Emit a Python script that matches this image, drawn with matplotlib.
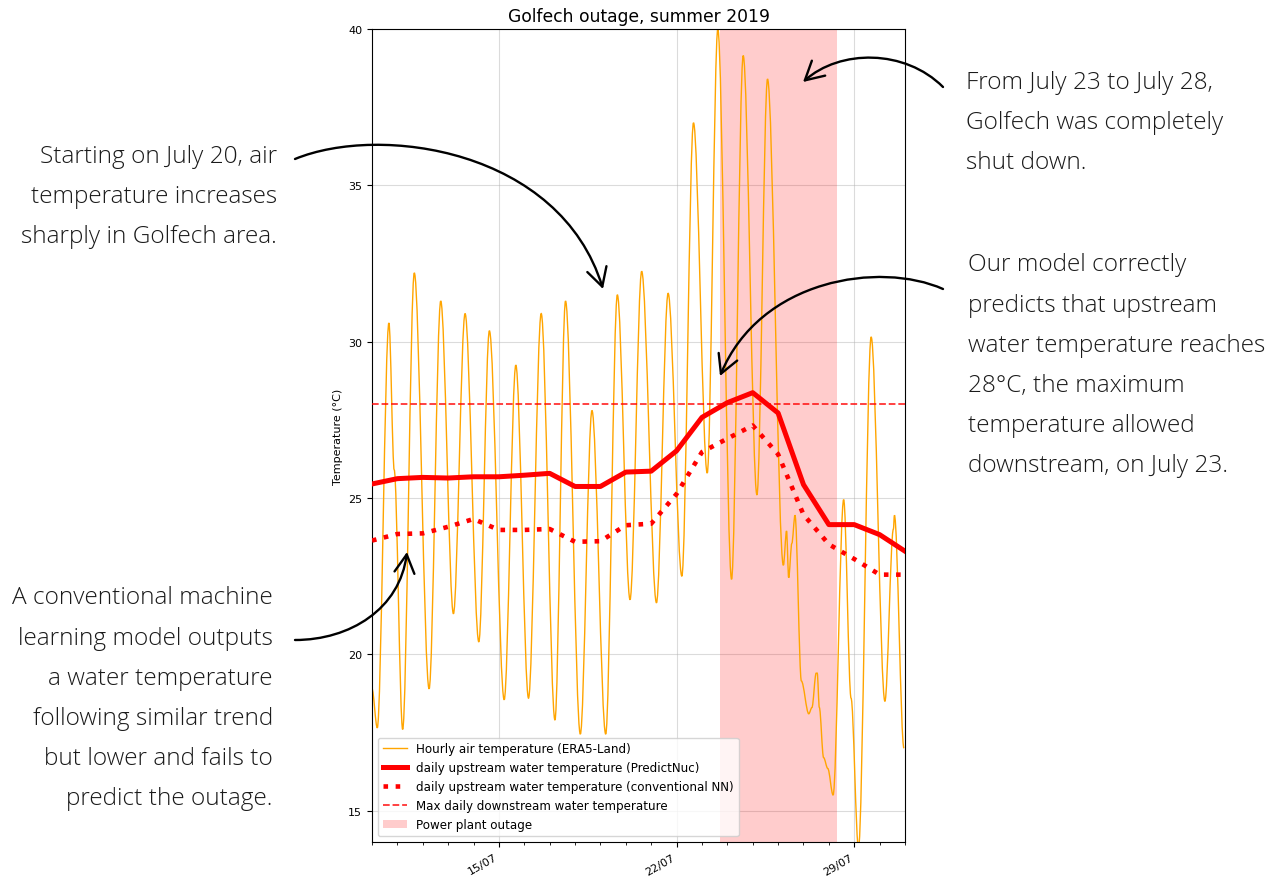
"""Golfech outage, summer 2019: air temperature and upstream water temperature."""

import datetime as dt

import matplotlib

matplotlib.use("Agg")
import matplotlib.dates as mdates
import matplotlib.pyplot as plt
from matplotlib.lines import Line2D
from matplotlib.patches import FancyArrowPatch, PathPatch, Patch
from matplotlib.path import Path


AIR_TIMES = [
    "2019-07-10 00:00", "2019-07-10 05:00", "2019-07-10 16:00", "2019-07-10 21:00",
    "2019-07-11 05:00", "2019-07-11 16:00", "2019-07-12 06:00", "2019-07-12 17:00",
    "2019-07-13 05:00", "2019-07-13 16:00", "2019-07-14 05:00", "2019-07-14 15:00",
    "2019-07-15 05:00", "2019-07-15 16:00", "2019-07-16 04:00", "2019-07-16 16:00",
    "2019-07-17 05:00", "2019-07-17 15:00", "2019-07-18 05:00", "2019-07-18 16:00",
    "2019-07-19 05:00", "2019-07-19 16:00", "2019-07-20 04:00", "2019-07-20 15:00",
    "2019-07-21 05:00", "2019-07-21 16:00", "2019-07-22 05:00", "2019-07-22 16:00",
    "2019-07-23 05:00", "2019-07-23 15:00", "2019-07-24 04:00", "2019-07-24 15:00",
    "2019-07-25 04:00", "2019-07-25 14:00", "2019-07-26 05:00", "2019-07-26 08:00",
    "2019-07-26 10:00", "2019-07-26 13:00", "2019-07-26 16:00", "2019-07-26 22:00",
    "2019-07-27 05:00", "2019-07-27 08:00", "2019-07-27 12:00", "2019-07-27 13:00",
    "2019-07-27 15:00", "2019-07-27 19:00", "2019-07-27 23:00", "2019-07-28 04:00",
    "2019-07-28 14:00", "2019-07-28 21:00", "2019-07-29 04:00", "2019-07-29 16:00",
    "2019-07-30 05:00", "2019-07-30 13:00", "2019-07-30 14:00", "2019-07-30 23:00",
]
AIR_TEMP = [
    18.9, 17.65, 30.6, 25.9,
    17.6, 32.2, 18.9, 31.3,
    21.3, 30.9, 20.4, 30.35,
    18.55, 29.25, 18.6, 30.9,
    17.9, 31.3, 17.45, 27.8,
    17.45, 31.5, 21.75, 32.25,
    21.65, 31.55, 22.5, 37.0,
    25.8, 40.0, 22.4, 39.15,
    25.1, 38.4, 22.85, 23.95,
    22.45, 23.55, 24.45, 19.15,
    18.1, 18.3, 19.4, 19.4,
    18.3, 16.7, 16.35, 15.5,
    24.95, 18.6, 13.8, 30.15,
    18.5, 24.0, 24.45, 17.0,
]

# daily upstream water temperature, July 10 to July 31 at midnight
DAILY_DATES = [dt.datetime(2019, 7, day) for day in range(10, 32)]
PREDICTNUC = [
    25.45, 25.62, 25.66, 25.64, 25.68, 25.68, 25.73, 25.79, 25.37, 25.37, 25.83,
    25.86, 26.51, 27.58, 28.05, 28.37, 27.72, 25.43, 24.15, 24.15, 23.83, 23.3,
]
CONVENTIONAL_NN = [
    23.64, 23.85, 23.87, 24.08, 24.33, 23.98, 23.98, 24.01, 23.6, 23.62, 24.13,
    24.18, 25.13, 26.47, 26.9, 27.32, 26.4, 24.47, 23.52, 23.05, 22.55, 22.55,
]
MAX_DOWNSTREAM = 28.0
OUTAGE_START = dt.datetime(2019, 7, 23, 17, 30)
OUTAGE_END = dt.datetime(2019, 7, 28, 7, 30)

NOTE_FONT = ["Open Sans", "Lato", "DejaVu Sans"]
NOTE_COLOR = "#1a1a1a"
NOTE_SIZE = 17.6

W, H = 1284, 879


def smooth_path(xs, ys):
    """Cubic path through the points, flat at each point like a daily cycle."""
    verts = [(xs[0], ys[0])]
    codes = [Path.MOVETO]
    for i in range(len(xs) - 1):
        step = (xs[i + 1] - xs[i]) / 3
        verts += [(xs[i] + step, ys[i]), (xs[i + 1] - step, ys[i + 1]), (xs[i + 1], ys[i + 1])]
        codes += [Path.CURVE4] * 3
    return Path(verts, codes)


def fig_xy(x, y):
    """Image pixel (y down) to figure fraction."""
    return x / W, 1 - y / H


fig = plt.figure(figsize=(W / 100, H / 100), dpi=100)
ax = fig.add_axes([372 / W, 1 - 843 / H, 533 / W, 813 / H])

air_x = mdates.date2num([dt.datetime.strptime(t, "%Y-%m-%d %H:%M") for t in AIR_TIMES])
ax.add_patch(PathPatch(smooth_path(air_x, AIR_TEMP), fill=False,
                       edgecolor="orange", linewidth=1.0, zorder=2))
ax.plot(DAILY_DATES, PREDICTNUC, color="red", linewidth=3.6, zorder=3)
ax.plot(DAILY_DATES, CONVENTIONAL_NN, color="red", linewidth=3.3, linestyle=":", zorder=3)
ax.axhline(MAX_DOWNSTREAM, color="red", linestyle="--", linewidth=1.3, alpha=0.8, zorder=3)
ax.axvspan(OUTAGE_START, OUTAGE_END, color="red", alpha=0.2, linewidth=0, zorder=1)

ax.set_xlim(DAILY_DATES[0], DAILY_DATES[-1])
ax.set_ylim(14, 40)
ax.set_yticks([15, 20, 25, 30, 35, 40])
ax.xaxis.set_major_locator(mdates.DayLocator(bymonthday=[1, 8, 15, 22, 29]))
ax.xaxis.set_minor_locator(mdates.DayLocator())
ax.xaxis.set_major_formatter(mdates.DateFormatter("%d/%m"))
ax.tick_params(labelsize=8)
for label in ax.get_xticklabels():
    label.set_rotation(30)
    label.set_horizontalalignment("right")
ax.grid(True, color="#b0b0b0", alpha=0.45, linewidth=0.8)
ax.set_axisbelow(True)
ax.set_title("Golfech outage, summer 2019", fontsize=12.3)
ax.set_ylabel("Temperature (°C)", fontsize=8)

handles = [
    Line2D([], [], color="orange", linewidth=1.0),
    Line2D([], [], color="red", linewidth=3.6),
    Line2D([], [], color="red", linewidth=3.3, linestyle=":"),
    Line2D([], [], color="red", linewidth=1.3, linestyle="--", alpha=0.8),
    Patch(facecolor="red", alpha=0.2, linewidth=0),
]
labels = [
    "Hourly air temperature (ERA5-Land)",
    "daily upstream water temperature (PredictNuc)",
    "daily upstream water temperature (conventional NN)",
    "Max daily downstream water temperature",
    "Power plant outage",
]
ax.legend(handles, labels, loc="lower left", fontsize=8.6)

# side notes
notes = [
    (277, 197, "right", "Starting on July 20, air\ntemperature increases\nsharply in Golfech area."),
    (273, 699, "right", "A conventional machine\nlearning model outputs\na water temperature\n"
                        "following similar trend\nbut lower and fails to\npredict the outage."),
    (966, 123, "left", "From July 23 to July 28,\nGolfech was completely\nshut down."),
    (968, 366, "left", "Our model correctly\npredicts that upstream\nwater temperature reaches\n"
                       "28°C, the maximum\ntemperature allowed\ndownstream, on July 23."),
]
for x, y, align, text in notes:
    fig.text(*fig_xy(x, y), text, ha=align, va="center", multialignment=align,
             family=NOTE_FONT, fontweight="light", fontsize=NOTE_SIZE,
             color=NOTE_COLOR, linespacing=1.9)

# curved arrows: start, two control points, tip (image pixels)
arrows = [
    [(295, 160), (380, 125), (560, 150), (603, 290)],
    [(295, 641), (350, 641), (400, 610), (407, 553)],
    [(943, 88), (905, 50), (840, 50), (803, 83)],
    [(943, 290), (880, 262), (760, 280), (720, 377)],
]
for pts in arrows:
    path = Path([fig_xy(*p) for p in pts], [Path.MOVETO, Path.CURVE4, Path.CURVE4, Path.CURVE4])
    fig.add_artist(FancyArrowPatch(path=path, arrowstyle="->,head_length=1.1,head_width=0.6",
                                   mutation_scale=12, linewidth=1.7, color="black",
                                   transform=fig.transFigure))

fig.savefig("out.png", dpi=100)
